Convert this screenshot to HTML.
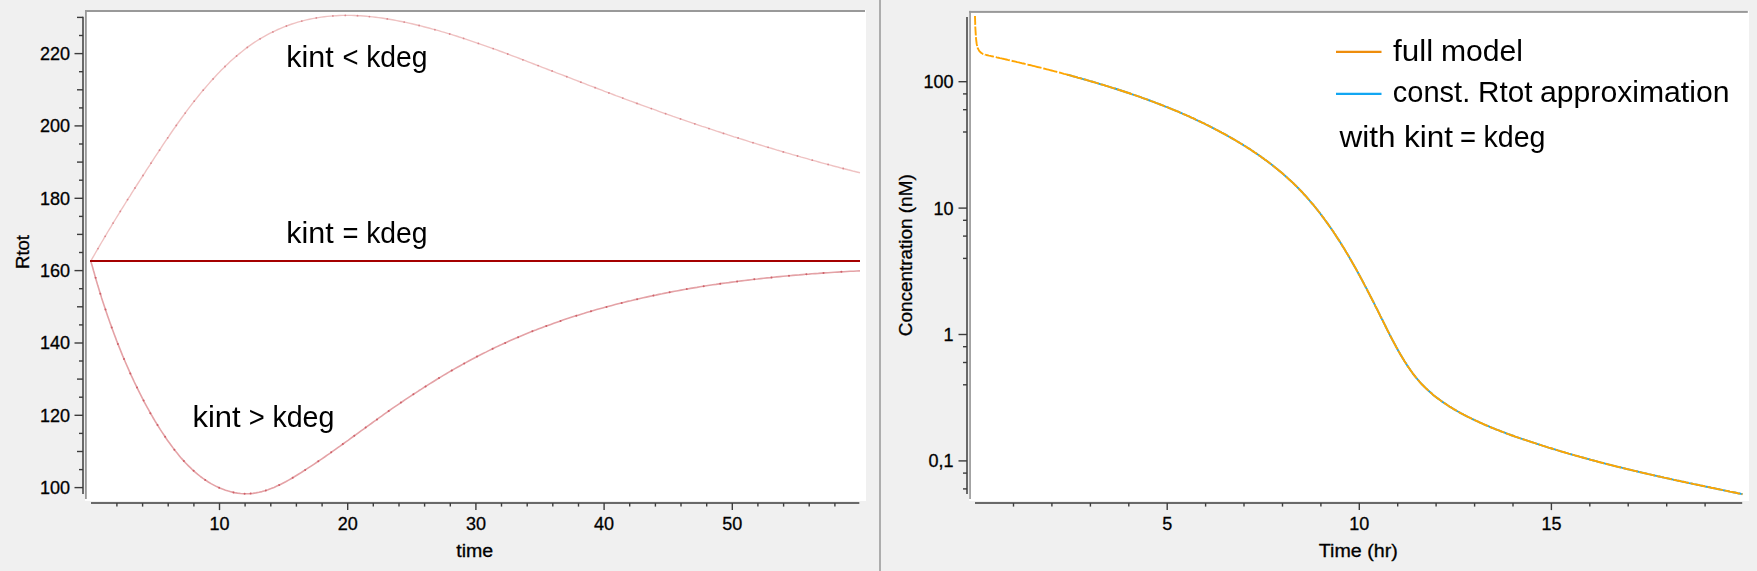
<!DOCTYPE html>
<html lang="en"><head><meta charset="utf-8"><title>Rtot and concentration plots</title>
<style>html,body{margin:0;padding:0;background:#f0f0f0;overflow:hidden}svg{display:block}text{font-family:"Liberation Sans",sans-serif;fill:#000}.ax{font-size:18px;stroke:#000;stroke-width:.3px}.an{font-size:30px}</style></head><body>
<svg width="1757" height="571" viewBox="0 0 1757 571">
<defs><filter id="gs" filterUnits="userSpaceOnUse" x="0" y="0" width="1757" height="571" color-interpolation-filters="sRGB"><feColorMatrix type="saturate" values="0"/></filter></defs>
<rect width="1757" height="571" fill="#f0f0f0"/>
<rect x="85" y="10" width="781" height="491" fill="#fff"/>
<rect x="85" y="10" width="780" height="2" fill="#999"/>
<rect x="85" y="10" width="1.8" height="489" fill="#999"/>
<line x1="83.0" y1="16.7" x2="83.0" y2="494.0" stroke="#3c3c3c" stroke-width="1.5"/>
<line x1="74.5" y1="487.6" x2="83.0" y2="487.6" stroke="#3c3c3c" stroke-width="1.4"/>
<text class="ax" x="70" y="494.0" text-anchor="end">100</text>
<line x1="79.0" y1="469.6" x2="83.0" y2="469.6" stroke="#3c3c3c" stroke-width="1.4"/>
<line x1="77.0" y1="451.5" x2="83.0" y2="451.5" stroke="#3c3c3c" stroke-width="1.4"/>
<line x1="79.0" y1="433.4" x2="83.0" y2="433.4" stroke="#3c3c3c" stroke-width="1.4"/>
<line x1="74.5" y1="415.3" x2="83.0" y2="415.3" stroke="#3c3c3c" stroke-width="1.4"/>
<text class="ax" x="70" y="421.7" text-anchor="end">120</text>
<line x1="79.0" y1="397.2" x2="83.0" y2="397.2" stroke="#3c3c3c" stroke-width="1.4"/>
<line x1="77.0" y1="379.1" x2="83.0" y2="379.1" stroke="#3c3c3c" stroke-width="1.4"/>
<line x1="79.0" y1="361.0" x2="83.0" y2="361.0" stroke="#3c3c3c" stroke-width="1.4"/>
<line x1="74.5" y1="343.0" x2="83.0" y2="343.0" stroke="#3c3c3c" stroke-width="1.4"/>
<text class="ax" x="70" y="349.4" text-anchor="end">140</text>
<line x1="79.0" y1="324.9" x2="83.0" y2="324.9" stroke="#3c3c3c" stroke-width="1.4"/>
<line x1="77.0" y1="306.8" x2="83.0" y2="306.8" stroke="#3c3c3c" stroke-width="1.4"/>
<line x1="79.0" y1="288.7" x2="83.0" y2="288.7" stroke="#3c3c3c" stroke-width="1.4"/>
<line x1="74.5" y1="270.6" x2="83.0" y2="270.6" stroke="#3c3c3c" stroke-width="1.4"/>
<text class="ax" x="70" y="277.0" text-anchor="end">160</text>
<line x1="79.0" y1="252.5" x2="83.0" y2="252.5" stroke="#3c3c3c" stroke-width="1.4"/>
<line x1="77.0" y1="234.4" x2="83.0" y2="234.4" stroke="#3c3c3c" stroke-width="1.4"/>
<line x1="79.0" y1="216.4" x2="83.0" y2="216.4" stroke="#3c3c3c" stroke-width="1.4"/>
<line x1="74.5" y1="198.3" x2="83.0" y2="198.3" stroke="#3c3c3c" stroke-width="1.4"/>
<text class="ax" x="70" y="204.7" text-anchor="end">180</text>
<line x1="79.0" y1="180.2" x2="83.0" y2="180.2" stroke="#3c3c3c" stroke-width="1.4"/>
<line x1="77.0" y1="162.1" x2="83.0" y2="162.1" stroke="#3c3c3c" stroke-width="1.4"/>
<line x1="79.0" y1="144.0" x2="83.0" y2="144.0" stroke="#3c3c3c" stroke-width="1.4"/>
<line x1="74.5" y1="125.9" x2="83.0" y2="125.9" stroke="#3c3c3c" stroke-width="1.4"/>
<text class="ax" x="70" y="132.3" text-anchor="end">200</text>
<line x1="79.0" y1="107.9" x2="83.0" y2="107.9" stroke="#3c3c3c" stroke-width="1.4"/>
<line x1="77.0" y1="89.8" x2="83.0" y2="89.8" stroke="#3c3c3c" stroke-width="1.4"/>
<line x1="79.0" y1="71.7" x2="83.0" y2="71.7" stroke="#3c3c3c" stroke-width="1.4"/>
<line x1="74.5" y1="53.6" x2="83.0" y2="53.6" stroke="#3c3c3c" stroke-width="1.4"/>
<text class="ax" x="70" y="60.0" text-anchor="end">220</text>
<line x1="79.0" y1="35.5" x2="83.0" y2="35.5" stroke="#3c3c3c" stroke-width="1.4"/>
<line x1="77.0" y1="17.4" x2="83.0" y2="17.4" stroke="#3c3c3c" stroke-width="1.4"/>
<text class="ax" transform="translate(29.3,252) rotate(-90)" text-anchor="middle" textLength="34" lengthAdjust="spacingAndGlyphs">Rtot</text>
<line x1="91" y1="503.1" x2="859.3" y2="503.1" stroke="#3c3c3c" stroke-width="1.5"/>
<line x1="116.9" y1="503.1" x2="116.9" y2="506.6" stroke="#3c3c3c" stroke-width="1.4"/>
<line x1="142.6" y1="503.1" x2="142.6" y2="506.6" stroke="#3c3c3c" stroke-width="1.4"/>
<line x1="168.2" y1="503.1" x2="168.2" y2="506.6" stroke="#3c3c3c" stroke-width="1.4"/>
<line x1="193.9" y1="503.1" x2="193.9" y2="506.6" stroke="#3c3c3c" stroke-width="1.4"/>
<line x1="219.5" y1="503.1" x2="219.5" y2="510.1" stroke="#3c3c3c" stroke-width="1.4"/>
<text class="ax" x="219.5" y="530" text-anchor="middle">10</text>
<line x1="245.1" y1="503.1" x2="245.1" y2="506.6" stroke="#3c3c3c" stroke-width="1.4"/>
<line x1="270.8" y1="503.1" x2="270.8" y2="506.6" stroke="#3c3c3c" stroke-width="1.4"/>
<line x1="296.4" y1="503.1" x2="296.4" y2="506.6" stroke="#3c3c3c" stroke-width="1.4"/>
<line x1="322.1" y1="503.1" x2="322.1" y2="506.6" stroke="#3c3c3c" stroke-width="1.4"/>
<line x1="347.7" y1="503.1" x2="347.7" y2="510.1" stroke="#3c3c3c" stroke-width="1.4"/>
<text class="ax" x="347.7" y="530" text-anchor="middle">20</text>
<line x1="373.3" y1="503.1" x2="373.3" y2="506.6" stroke="#3c3c3c" stroke-width="1.4"/>
<line x1="399.0" y1="503.1" x2="399.0" y2="506.6" stroke="#3c3c3c" stroke-width="1.4"/>
<line x1="424.6" y1="503.1" x2="424.6" y2="506.6" stroke="#3c3c3c" stroke-width="1.4"/>
<line x1="450.3" y1="503.1" x2="450.3" y2="506.6" stroke="#3c3c3c" stroke-width="1.4"/>
<line x1="475.9" y1="503.1" x2="475.9" y2="510.1" stroke="#3c3c3c" stroke-width="1.4"/>
<text class="ax" x="475.9" y="530" text-anchor="middle">30</text>
<line x1="501.5" y1="503.1" x2="501.5" y2="506.6" stroke="#3c3c3c" stroke-width="1.4"/>
<line x1="527.2" y1="503.1" x2="527.2" y2="506.6" stroke="#3c3c3c" stroke-width="1.4"/>
<line x1="552.8" y1="503.1" x2="552.8" y2="506.6" stroke="#3c3c3c" stroke-width="1.4"/>
<line x1="578.5" y1="503.1" x2="578.5" y2="506.6" stroke="#3c3c3c" stroke-width="1.4"/>
<line x1="604.1" y1="503.1" x2="604.1" y2="510.1" stroke="#3c3c3c" stroke-width="1.4"/>
<text class="ax" x="604.1" y="530" text-anchor="middle">40</text>
<line x1="629.7" y1="503.1" x2="629.7" y2="506.6" stroke="#3c3c3c" stroke-width="1.4"/>
<line x1="655.4" y1="503.1" x2="655.4" y2="506.6" stroke="#3c3c3c" stroke-width="1.4"/>
<line x1="681.0" y1="503.1" x2="681.0" y2="506.6" stroke="#3c3c3c" stroke-width="1.4"/>
<line x1="706.7" y1="503.1" x2="706.7" y2="506.6" stroke="#3c3c3c" stroke-width="1.4"/>
<line x1="732.3" y1="503.1" x2="732.3" y2="510.1" stroke="#3c3c3c" stroke-width="1.4"/>
<text class="ax" x="732.3" y="530" text-anchor="middle">50</text>
<line x1="757.9" y1="503.1" x2="757.9" y2="506.6" stroke="#3c3c3c" stroke-width="1.4"/>
<line x1="783.6" y1="503.1" x2="783.6" y2="506.6" stroke="#3c3c3c" stroke-width="1.4"/>
<line x1="809.2" y1="503.1" x2="809.2" y2="506.6" stroke="#3c3c3c" stroke-width="1.4"/>
<line x1="834.9" y1="503.1" x2="834.9" y2="506.6" stroke="#3c3c3c" stroke-width="1.4"/>
<text class="ax" x="474.7" y="556.5" text-anchor="middle" textLength="37" lengthAdjust="spacingAndGlyphs">time</text>
<path d="M90.8,261.0 L92.3,258.4 L93.9,255.7 L95.4,253.0 L96.9,250.4 L98.4,247.8 L100.0,245.1 L101.5,242.5 L103.1,239.9 L104.6,237.2 L106.2,234.6 L107.7,232.0 L109.3,229.4 L110.9,226.8 L112.4,224.2 L114.0,221.6 L115.6,219.0 L117.2,216.4 L118.8,213.8 L120.4,211.2 L122.0,208.7 L123.6,206.1 L125.2,203.5 L126.8,200.9 L128.4,198.4 L130.1,195.8 L131.7,193.2 L133.3,190.7 L134.9,188.1 L136.6,185.5 L138.2,183.0 L139.9,180.4 L141.5,177.9 L143.1,175.3 L144.8,172.8 L146.4,170.2 L148.1,167.6 L149.8,165.1 L151.4,162.5 L153.1,160.0 L154.7,157.4 L156.4,154.9 L158.1,152.3 L159.8,149.8 L161.5,147.2 L163.1,144.7 L164.8,142.1 L166.5,139.6 L168.3,137.1 L170.0,134.5 L171.7,132.0 L173.4,129.5 L175.2,127.0 L176.9,124.5 L178.7,122.0 L180.5,119.5 L182.3,117.0 L184.1,114.6 L185.9,112.1 L187.7,109.7 L189.6,107.2 L191.4,104.8 L193.3,102.4 L195.2,100.0 L197.1,97.6 L199.0,95.2 L200.9,92.9 L202.9,90.5 L204.9,88.2 L206.9,85.9 L208.9,83.6 L210.9,81.3 L213.0,79.0 L215.1,76.7 L217.1,74.5 L219.3,72.3 L221.4,70.1 L223.6,67.9 L225.8,65.8 L228.0,63.7 L230.2,61.6 L232.5,59.5 L234.8,57.5 L237.1,55.5 L239.4,53.6 L241.8,51.7 L244.2,49.8 L246.6,47.9 L249.0,46.1 L251.5,44.4 L254.0,42.7 L256.6,41.0 L259.1,39.4 L261.7,37.8 L264.4,36.3 L267.0,34.9 L269.7,33.4 L272.4,32.1 L275.1,30.8 L277.9,29.5 L280.7,28.3 L283.5,27.2 L286.3,26.1 L289.1,25.0 L292.0,24.0 L294.9,23.1 L297.8,22.2 L300.7,21.4 L303.6,20.6 L306.5,19.9 L309.4,19.2 L312.4,18.6 L315.4,18.1 L318.3,17.6 L321.3,17.1 L324.3,16.7 L327.3,16.4 L330.3,16.1 L333.3,15.9 L336.3,15.7 L339.3,15.5 L342.3,15.4 L345.3,15.4 L348.3,15.4 L351.4,15.4 L354.4,15.5 L357.4,15.7 L360.4,15.8 L363.5,16.0 L366.5,16.3 L369.5,16.6 L372.6,16.9 L375.6,17.2 L378.6,17.6 L381.7,18.0 L384.7,18.5 L387.7,19.0 L390.8,19.5 L393.8,20.0 L396.8,20.6 L399.8,21.2 L402.8,21.8 L405.9,22.4 L408.9,23.1 L411.9,23.8 L414.9,24.5 L417.9,25.2 L420.8,25.9 L423.8,26.7 L426.8,27.5 L429.8,28.3 L432.7,29.1 L435.7,29.9 L438.6,30.7 L441.6,31.6 L444.5,32.4 L447.5,33.3 L450.4,34.2 L453.3,35.1 L456.3,36.0 L459.2,37.0 L462.1,37.9 L465.0,38.8 L467.9,39.8 L470.8,40.8 L473.7,41.8 L476.6,42.8 L479.5,43.8 L482.4,44.8 L485.3,45.8 L488.1,46.8 L491.0,47.8 L493.9,48.9 L496.8,49.9 L499.6,51.0 L502.5,52.0 L505.4,53.1 L508.2,54.2 L511.1,55.3 L513.9,56.3 L516.8,57.4 L519.6,58.5 L522.5,59.6 L525.3,60.7 L528.2,61.8 L531.0,62.9 L533.8,64.0 L536.7,65.1 L539.5,66.2 L542.3,67.3 L545.2,68.4 L548.0,69.5 L550.8,70.6 L553.7,71.7 L556.5,72.8 L559.3,73.8 L562.2,74.9 L565.0,76.0 L567.8,77.1 L570.6,78.2 L573.5,79.3 L576.3,80.4 L579.1,81.5 L581.9,82.6 L584.8,83.7 L587.6,84.8 L590.4,85.9 L593.3,86.9 L596.1,88.0 L598.9,89.1 L601.8,90.2 L604.6,91.3 L607.4,92.3 L610.3,93.4 L613.1,94.5 L615.9,95.6 L618.8,96.6 L621.6,97.7 L624.5,98.8 L627.3,99.8 L630.1,100.9 L633.0,101.9 L635.9,103.0 L638.7,104.0 L641.6,105.1 L644.4,106.1 L647.3,107.1 L650.1,108.2 L653.0,109.2 L655.9,110.2 L658.8,111.3 L661.6,112.3 L664.5,113.3 L667.4,114.3 L670.3,115.3 L673.1,116.4 L676.0,117.4 L678.9,118.4 L681.8,119.4 L684.7,120.4 L687.6,121.4 L690.5,122.3 L693.4,123.3 L696.3,124.3 L699.2,125.3 L702.1,126.3 L705.0,127.2 L707.9,128.2 L710.8,129.2 L713.7,130.1 L716.6,131.1 L719.5,132.0 L722.4,133.0 L725.3,133.9 L728.2,134.9 L731.1,135.8 L734.0,136.8 L737.0,137.7 L739.9,138.6 L742.8,139.5 L745.7,140.4 L748.6,141.4 L751.5,142.3 L754.5,143.2 L757.4,144.1 L760.3,145.0 L763.2,145.9 L766.1,146.8 L769.1,147.6 L772.0,148.5 L774.9,149.4 L777.8,150.3 L780.8,151.1 L783.7,152.0 L786.6,152.9 L789.5,153.7 L792.5,154.6 L795.4,155.4 L798.3,156.2 L801.3,157.1 L804.2,157.9 L807.1,158.7 L810.0,159.6 L813.0,160.4 L815.9,161.2 L818.8,162.0 L821.7,162.8 L824.7,163.6 L827.6,164.4 L830.5,165.2 L833.5,166.0 L836.4,166.7 L839.3,167.5 L842.2,168.3 L845.1,169.0 L848.1,169.8 L851.0,170.5 L853.9,171.3 L856.8,172.0 L860.0,172.7" fill="none" stroke="#efc2c2" stroke-width="1.4" stroke-linejoin="round"/>
<path d="M90.8,261.0 L91.7,264.2 L92.6,267.2 L93.4,270.3 L94.3,273.3 L95.1,276.4 L96.0,279.5 L96.9,282.5 L97.8,285.6 L98.8,288.7 L99.7,291.7 L100.7,294.8 L101.6,297.9 L102.6,300.9 L103.6,304.0 L104.6,307.1 L105.6,310.1 L106.7,313.2 L107.7,316.2 L108.8,319.3 L109.9,322.4 L111.0,325.4 L112.1,328.5 L113.2,331.5 L114.3,334.5 L115.5,337.6 L116.6,340.6 L117.8,343.6 L119.0,346.6 L120.2,349.6 L121.4,352.6 L122.6,355.6 L123.9,358.6 L125.1,361.5 L126.4,364.5 L127.7,367.4 L129.0,370.4 L130.3,373.3 L131.6,376.2 L133.0,379.1 L134.3,382.0 L135.7,384.9 L137.1,387.7 L138.5,390.6 L139.9,393.4 L141.3,396.2 L142.8,399.1 L144.2,401.9 L145.7,404.7 L147.2,407.4 L148.8,410.2 L150.3,413.0 L151.9,415.7 L153.5,418.5 L155.1,421.2 L156.8,423.9 L158.5,426.6 L160.2,429.4 L162.0,432.1 L163.8,434.8 L165.6,437.5 L167.4,440.2 L169.3,442.8 L171.3,445.5 L173.2,448.1 L175.2,450.8 L177.3,453.3 L179.4,455.9 L181.5,458.4 L183.7,460.9 L185.9,463.3 L188.2,465.6 L190.6,467.9 L192.9,470.2 L195.4,472.3 L197.8,474.4 L200.4,476.5 L203.0,478.4 L205.6,480.2 L208.3,482.0 L211.0,483.6 L213.8,485.1 L216.7,486.6 L219.6,487.9 L222.5,489.1 L225.5,490.2 L228.4,491.1 L231.5,491.9 L234.5,492.6 L237.5,493.1 L240.6,493.5 L243.7,493.7 L246.8,493.8 L249.8,493.7 L252.9,493.4 L255.9,492.9 L259.0,492.3 L262.0,491.6 L265.0,490.7 L268.0,489.7 L271.0,488.6 L274.0,487.4 L276.9,486.1 L279.9,484.7 L282.8,483.2 L285.7,481.7 L288.6,480.1 L291.5,478.5 L294.3,476.8 L297.2,475.0 L300.0,473.3 L302.8,471.5 L305.6,469.7 L308.3,467.9 L311.1,466.1 L313.8,464.3 L316.5,462.5 L319.2,460.6 L321.9,458.8 L324.6,457.0 L327.2,455.1 L329.9,453.3 L332.5,451.4 L335.1,449.6 L337.8,447.7 L340.4,445.9 L343.0,444.0 L345.5,442.1 L348.1,440.3 L350.7,438.4 L353.3,436.5 L355.9,434.7 L358.4,432.8 L361.0,430.9 L363.6,429.1 L366.1,427.2 L368.7,425.3 L371.3,423.5 L373.8,421.6 L376.4,419.8 L379.0,417.9 L381.6,416.1 L384.2,414.2 L386.8,412.4 L389.4,410.5 L392.0,408.7 L394.6,406.9 L397.3,405.1 L399.9,403.3 L402.6,401.5 L405.2,399.7 L407.9,397.9 L410.6,396.1 L413.3,394.3 L416.0,392.6 L418.7,390.8 L421.4,389.1 L424.1,387.3 L426.8,385.6 L429.6,383.9 L432.3,382.2 L435.1,380.5 L437.8,378.8 L440.6,377.1 L443.4,375.4 L446.2,373.8 L448.9,372.1 L451.7,370.5 L454.5,368.9 L457.4,367.3 L460.2,365.7 L463.0,364.1 L465.8,362.6 L468.7,361.0 L471.5,359.5 L474.4,358.0 L477.2,356.5 L480.1,355.0 L483.0,353.5 L485.9,352.1 L488.8,350.6 L491.7,349.2 L494.6,347.8 L497.5,346.4 L500.4,345.1 L503.3,343.7 L506.2,342.4 L509.2,341.1 L512.1,339.8 L515.0,338.5 L518.0,337.2 L521.0,336.0 L523.9,334.8 L526.9,333.5 L529.9,332.3 L532.8,331.1 L535.8,330.0 L538.8,328.8 L541.8,327.7 L544.8,326.6 L547.8,325.5 L550.8,324.4 L553.8,323.3 L556.9,322.2 L559.9,321.2 L562.9,320.1 L565.9,319.1 L569.0,318.1 L572.0,317.1 L575.1,316.1 L578.1,315.2 L581.2,314.2 L584.3,313.3 L587.3,312.3 L590.4,311.4 L593.5,310.5 L596.6,309.6 L599.6,308.8 L602.7,307.9 L605.8,307.1 L608.9,306.2 L612.0,305.4 L615.1,304.6 L618.2,303.8 L621.3,303.0 L624.4,302.2 L627.6,301.4 L630.7,300.7 L633.8,299.9 L636.9,299.2 L640.1,298.5 L643.2,297.8 L646.3,297.1 L649.5,296.4 L652.6,295.7 L655.8,295.1 L658.9,294.4 L662.1,293.8 L665.2,293.1 L668.4,292.5 L671.5,291.9 L674.7,291.3 L677.9,290.7 L681.0,290.1 L684.2,289.5 L687.4,289.0 L690.5,288.4 L693.7,287.9 L696.9,287.4 L700.1,286.8 L703.2,286.3 L706.4,285.8 L709.6,285.3 L712.8,284.8 L716.0,284.4 L719.2,283.9 L722.4,283.4 L725.5,283.0 L728.7,282.6 L731.9,282.1 L735.1,281.7 L738.3,281.3 L741.5,280.9 L744.7,280.5 L747.9,280.1 L751.1,279.7 L754.3,279.3 L757.5,279.0 L760.7,278.6 L763.9,278.2 L767.1,277.9 L770.3,277.6 L773.5,277.2 L776.7,276.9 L779.9,276.6 L783.1,276.3 L786.3,276.0 L789.5,275.7 L792.7,275.4 L795.9,275.1 L799.2,274.9 L802.4,274.6 L805.6,274.3 L808.8,274.1 L812.0,273.8 L815.2,273.6 L818.4,273.4 L821.6,273.1 L824.8,272.9 L828.0,272.7 L831.2,272.5 L834.4,272.3 L837.5,272.1 L840.7,271.9 L843.9,271.7 L847.1,271.5 L850.3,271.3 L853.5,271.2 L856.7,271.0 L860.0,270.9" fill="none" stroke="#e4a2a6" stroke-width="1.6" stroke-linejoin="round"/>
<circle cx="98.0" cy="248.6" r="0.9" fill="#dc8a90"/><circle cx="105.2" cy="236.3" r="0.9" fill="#dc8a90"/><circle cx="113.1" cy="223.1" r="0.9" fill="#dc8a90"/><circle cx="120.3" cy="211.4" r="0.9" fill="#dc8a90"/><circle cx="127.6" cy="199.6" r="0.9" fill="#dc8a90"/><circle cx="135.0" cy="188.0" r="0.9" fill="#dc8a90"/><circle cx="143.0" cy="175.5" r="0.9" fill="#dc8a90"/><circle cx="151.0" cy="163.2" r="0.9" fill="#dc8a90"/><circle cx="159.5" cy="150.2" r="0.9" fill="#dc8a90"/><circle cx="167.7" cy="137.8" r="0.9" fill="#dc8a90"/><circle cx="176.3" cy="125.4" r="0.9" fill="#dc8a90"/><circle cx="185.2" cy="113.1" r="0.9" fill="#dc8a90"/><circle cx="194.2" cy="101.2" r="0.9" fill="#dc8a90"/><circle cx="203.2" cy="90.2" r="0.9" fill="#dc8a90"/><circle cx="213.1" cy="78.9" r="0.9" fill="#dc8a90"/><circle cx="225.0" cy="66.5" r="0.9" fill="#dc8a90"/><circle cx="236.6" cy="56.0" r="0.9" fill="#dc8a90"/><circle cx="247.3" cy="47.4" r="0.9" fill="#dc8a90"/><circle cx="260.1" cy="38.8" r="0.9" fill="#dc8a90"/><circle cx="272.9" cy="31.9" r="0.9" fill="#dc8a90"/><circle cx="286.4" cy="26.0" r="0.9" fill="#dc8a90"/><circle cx="301.8" cy="21.1" r="0.9" fill="#dc8a90"/><circle cx="316.3" cy="17.9" r="0.9" fill="#dc8a90"/><circle cx="332.9" cy="15.9" r="0.9" fill="#dc8a90"/><circle cx="345.3" cy="15.4" r="0.9" fill="#dc8a90"/><circle cx="357.5" cy="15.7" r="0.9" fill="#dc8a90"/><circle cx="369.4" cy="16.6" r="0.9" fill="#dc8a90"/><circle cx="387.3" cy="18.9" r="0.9" fill="#dc8a90"/><circle cx="404.2" cy="22.1" r="0.9" fill="#dc8a90"/><circle cx="419.1" cy="25.5" r="0.9" fill="#dc8a90"/><circle cx="434.9" cy="29.7" r="0.9" fill="#dc8a90"/><circle cx="449.7" cy="34.0" r="0.9" fill="#dc8a90"/><circle cx="463.6" cy="38.4" r="0.9" fill="#dc8a90"/><circle cx="478.4" cy="43.4" r="0.9" fill="#dc8a90"/><circle cx="493.2" cy="48.6" r="0.9" fill="#dc8a90"/><circle cx="507.7" cy="54.0" r="0.9" fill="#dc8a90"/><circle cx="522.9" cy="59.8" r="0.9" fill="#dc8a90"/><circle cx="538.1" cy="65.6" r="0.9" fill="#dc8a90"/><circle cx="552.1" cy="71.0" r="0.9" fill="#dc8a90"/><circle cx="566.8" cy="76.7" r="0.9" fill="#dc8a90"/><circle cx="580.9" cy="82.2" r="0.9" fill="#dc8a90"/><circle cx="595.1" cy="87.7" r="0.9" fill="#dc8a90"/><circle cx="608.9" cy="92.9" r="0.9" fill="#dc8a90"/><circle cx="622.8" cy="98.1" r="0.9" fill="#dc8a90"/><circle cx="637.0" cy="103.4" r="0.9" fill="#dc8a90"/><circle cx="651.3" cy="108.6" r="0.9" fill="#dc8a90"/><circle cx="665.6" cy="113.7" r="0.9" fill="#dc8a90"/><circle cx="680.5" cy="118.9" r="0.9" fill="#dc8a90"/><circle cx="694.8" cy="123.8" r="0.9" fill="#dc8a90"/><circle cx="709.0" cy="128.6" r="0.9" fill="#dc8a90"/><circle cx="723.5" cy="133.4" r="0.9" fill="#dc8a90"/><circle cx="738.1" cy="138.0" r="0.9" fill="#dc8a90"/><circle cx="753.0" cy="142.7" r="0.9" fill="#dc8a90"/><circle cx="768.1" cy="147.3" r="0.9" fill="#dc8a90"/><circle cx="783.3" cy="151.9" r="0.9" fill="#dc8a90"/><circle cx="797.5" cy="156.0" r="0.9" fill="#dc8a90"/><circle cx="812.3" cy="160.2" r="0.9" fill="#dc8a90"/><circle cx="828.1" cy="164.5" r="0.9" fill="#dc8a90"/><circle cx="843.2" cy="168.5" r="0.9" fill="#dc8a90"/><circle cx="95.6" cy="277.8" r="1" fill="#cf6068"/><circle cx="100.3" cy="293.7" r="1" fill="#cf6068"/><circle cx="105.5" cy="309.6" r="1" fill="#cf6068"/><circle cx="111.7" cy="327.4" r="1" fill="#cf6068"/><circle cx="117.9" cy="344.0" r="1" fill="#cf6068"/><circle cx="124.0" cy="358.9" r="1" fill="#cf6068"/><circle cx="130.3" cy="373.4" r="1" fill="#cf6068"/><circle cx="137.0" cy="387.6" r="1" fill="#cf6068"/><circle cx="143.6" cy="400.6" r="1" fill="#cf6068"/><circle cx="150.4" cy="413.2" r="1" fill="#cf6068"/><circle cx="157.5" cy="425.0" r="1" fill="#cf6068"/><circle cx="165.1" cy="436.8" r="1" fill="#cf6068"/><circle cx="174.4" cy="449.7" r="1" fill="#cf6068"/><circle cx="183.9" cy="461.0" r="1" fill="#cf6068"/><circle cx="193.6" cy="470.8" r="1" fill="#cf6068"/><circle cx="205.2" cy="480.0" r="1" fill="#cf6068"/><circle cx="219.2" cy="487.7" r="1" fill="#cf6068"/><circle cx="233.5" cy="492.4" r="1" fill="#cf6068"/><circle cx="244.6" cy="493.7" r="1" fill="#cf6068"/><circle cx="250.6" cy="493.6" r="1" fill="#cf6068"/><circle cx="265.8" cy="490.5" r="1" fill="#cf6068"/><circle cx="279.2" cy="485.0" r="1" fill="#cf6068"/><circle cx="292.7" cy="477.7" r="1" fill="#cf6068"/><circle cx="305.2" cy="469.9" r="1" fill="#cf6068"/><circle cx="318.3" cy="461.3" r="1" fill="#cf6068"/><circle cx="331.2" cy="452.3" r="1" fill="#cf6068"/><circle cx="342.8" cy="444.1" r="1" fill="#cf6068"/><circle cx="354.3" cy="435.8" r="1" fill="#cf6068"/><circle cx="365.7" cy="427.5" r="1" fill="#cf6068"/><circle cx="377.0" cy="419.4" r="1" fill="#cf6068"/><circle cx="388.7" cy="411.0" r="1" fill="#cf6068"/><circle cx="400.9" cy="402.6" r="1" fill="#cf6068"/><circle cx="413.4" cy="394.2" r="1" fill="#cf6068"/><circle cx="425.6" cy="386.4" r="1" fill="#cf6068"/><circle cx="439.0" cy="378.1" r="1" fill="#cf6068"/><circle cx="451.8" cy="370.5" r="1" fill="#cf6068"/><circle cx="464.2" cy="363.5" r="1" fill="#cf6068"/><circle cx="477.0" cy="356.6" r="1" fill="#cf6068"/><circle cx="492.6" cy="348.8" r="1" fill="#cf6068"/><circle cx="505.2" cy="342.9" r="1" fill="#cf6068"/><circle cx="518.1" cy="337.2" r="1" fill="#cf6068"/><circle cx="532.4" cy="331.3" r="1" fill="#cf6068"/><circle cx="546.3" cy="326.0" r="1" fill="#cf6068"/><circle cx="560.5" cy="320.9" r="1" fill="#cf6068"/><circle cx="576.3" cy="315.7" r="1" fill="#cf6068"/><circle cx="591.0" cy="311.2" r="1" fill="#cf6068"/><circle cx="606.5" cy="306.9" r="1" fill="#cf6068"/><circle cx="621.7" cy="302.9" r="1" fill="#cf6068"/><circle cx="637.1" cy="299.2" r="1" fill="#cf6068"/><circle cx="653.4" cy="295.6" r="1" fill="#cf6068"/><circle cx="669.6" cy="292.3" r="1" fill="#cf6068"/><circle cx="686.8" cy="289.1" r="1" fill="#cf6068"/><circle cx="703.7" cy="286.3" r="1" fill="#cf6068"/><circle cx="720.2" cy="283.8" r="1" fill="#cf6068"/><circle cx="737.1" cy="281.4" r="1" fill="#cf6068"/><circle cx="754.3" cy="279.3" r="1" fill="#cf6068"/><circle cx="771.5" cy="277.5" r="1" fill="#cf6068"/><circle cx="789.0" cy="275.8" r="1" fill="#cf6068"/><circle cx="806.4" cy="274.3" r="1" fill="#cf6068"/><circle cx="823.5" cy="273.0" r="1" fill="#cf6068"/><circle cx="841.4" cy="271.8" r="1" fill="#cf6068"/>
<line x1="90" y1="261.1" x2="860" y2="261.1" stroke="#a50000" stroke-width="2"/>
<g filter="url(#gs)"><text class="an" x="286.3" y="67.0" textLength="47.4" lengthAdjust="spacingAndGlyphs">kint</text><text class="an" x="342.5" y="67.0" textLength="16.0" lengthAdjust="spacingAndGlyphs">&lt;</text><text class="an" x="366.2" y="67.0" textLength="61.4" lengthAdjust="spacingAndGlyphs">kdeg</text></g>
<g filter="url(#gs)"><text class="an" x="286.3" y="242.6" textLength="47.4" lengthAdjust="spacingAndGlyphs">kint</text><text class="an" x="342.5" y="242.6" textLength="16.0" lengthAdjust="spacingAndGlyphs">=</text><text class="an" x="366.2" y="242.6" textLength="61.4" lengthAdjust="spacingAndGlyphs">kdeg</text></g>
<g filter="url(#gs)"><text class="an" x="192.5" y="426.7" textLength="48.2" lengthAdjust="spacingAndGlyphs">kint</text><text class="an" x="248.7" y="426.7" textLength="16.0" lengthAdjust="spacingAndGlyphs">&gt;</text><text class="an" x="272.4" y="426.7" textLength="62.0" lengthAdjust="spacingAndGlyphs">kdeg</text></g>
<rect x="879" y="0" width="2" height="571" fill="#adadad"/>
<rect x="969.2" y="10.9" width="779.8" height="490.1" fill="#fff"/>
<rect x="969.2" y="10.9" width="778.5999999999999" height="2" fill="#999"/>
<rect x="969.2" y="10.9" width="1.7" height="488.1" fill="#999"/>
<line x1="967.0" y1="16.9" x2="967.0" y2="494" stroke="#3c3c3c" stroke-width="1.5"/>
<line x1="958.5" y1="81.7" x2="967.0" y2="81.7" stroke="#3c3c3c" stroke-width="1.4"/>
<text class="ax" x="953.5" y="88.1" text-anchor="end">100</text>
<line x1="963.0" y1="93.9" x2="967.0" y2="93.9" stroke="#3c3c3c" stroke-width="1.4"/>
<line x1="963.0" y1="109.7" x2="967.0" y2="109.7" stroke="#3c3c3c" stroke-width="1.4"/>
<line x1="963.0" y1="132.0" x2="967.0" y2="132.0" stroke="#3c3c3c" stroke-width="1.4"/>
<line x1="958.5" y1="208.1" x2="967.0" y2="208.1" stroke="#3c3c3c" stroke-width="1.4"/>
<text class="ax" x="953.5" y="214.5" text-anchor="end">10</text>
<line x1="963.0" y1="220.3" x2="967.0" y2="220.3" stroke="#3c3c3c" stroke-width="1.4"/>
<line x1="963.0" y1="236.1" x2="967.0" y2="236.1" stroke="#3c3c3c" stroke-width="1.4"/>
<line x1="963.0" y1="258.4" x2="967.0" y2="258.4" stroke="#3c3c3c" stroke-width="1.4"/>
<line x1="958.5" y1="334.5" x2="967.0" y2="334.5" stroke="#3c3c3c" stroke-width="1.4"/>
<text class="ax" x="953.5" y="340.9" text-anchor="end">1</text>
<line x1="963.0" y1="346.7" x2="967.0" y2="346.7" stroke="#3c3c3c" stroke-width="1.4"/>
<line x1="963.0" y1="362.5" x2="967.0" y2="362.5" stroke="#3c3c3c" stroke-width="1.4"/>
<line x1="963.0" y1="384.8" x2="967.0" y2="384.8" stroke="#3c3c3c" stroke-width="1.4"/>
<line x1="958.5" y1="460.9" x2="967.0" y2="460.9" stroke="#3c3c3c" stroke-width="1.4"/>
<text class="ax" x="953.5" y="467.3" text-anchor="end">0,1</text>
<line x1="963.0" y1="473.1" x2="967.0" y2="473.1" stroke="#3c3c3c" stroke-width="1.4"/>
<line x1="963.0" y1="488.9" x2="967.0" y2="488.9" stroke="#3c3c3c" stroke-width="1.4"/>
<text class="ax" transform="translate(912.2,255.3) rotate(-90)" text-anchor="middle" textLength="162" lengthAdjust="spacingAndGlyphs">Concentration (nM)</text>
<line x1="975" y1="503.1" x2="1742.2" y2="503.1" stroke="#3c3c3c" stroke-width="1.5"/>
<line x1="1013.5" y1="503.1" x2="1013.5" y2="506.6" stroke="#3c3c3c" stroke-width="1.4"/>
<line x1="1051.9" y1="503.1" x2="1051.9" y2="506.6" stroke="#3c3c3c" stroke-width="1.4"/>
<line x1="1090.4" y1="503.1" x2="1090.4" y2="506.6" stroke="#3c3c3c" stroke-width="1.4"/>
<line x1="1128.8" y1="503.1" x2="1128.8" y2="506.6" stroke="#3c3c3c" stroke-width="1.4"/>
<line x1="1167.2" y1="503.1" x2="1167.2" y2="510.1" stroke="#3c3c3c" stroke-width="1.4"/>
<text class="ax" x="1167.2" y="530" text-anchor="middle">5</text>
<line x1="1205.6" y1="503.1" x2="1205.6" y2="506.6" stroke="#3c3c3c" stroke-width="1.4"/>
<line x1="1244.0" y1="503.1" x2="1244.0" y2="506.6" stroke="#3c3c3c" stroke-width="1.4"/>
<line x1="1282.5" y1="503.1" x2="1282.5" y2="506.6" stroke="#3c3c3c" stroke-width="1.4"/>
<line x1="1320.9" y1="503.1" x2="1320.9" y2="506.6" stroke="#3c3c3c" stroke-width="1.4"/>
<line x1="1359.3" y1="503.1" x2="1359.3" y2="510.1" stroke="#3c3c3c" stroke-width="1.4"/>
<text class="ax" x="1359.3" y="530" text-anchor="middle">10</text>
<line x1="1397.7" y1="503.1" x2="1397.7" y2="506.6" stroke="#3c3c3c" stroke-width="1.4"/>
<line x1="1436.1" y1="503.1" x2="1436.1" y2="506.6" stroke="#3c3c3c" stroke-width="1.4"/>
<line x1="1474.6" y1="503.1" x2="1474.6" y2="506.6" stroke="#3c3c3c" stroke-width="1.4"/>
<line x1="1513.0" y1="503.1" x2="1513.0" y2="506.6" stroke="#3c3c3c" stroke-width="1.4"/>
<line x1="1551.4" y1="503.1" x2="1551.4" y2="510.1" stroke="#3c3c3c" stroke-width="1.4"/>
<text class="ax" x="1551.4" y="530" text-anchor="middle">15</text>
<line x1="1589.8" y1="503.1" x2="1589.8" y2="506.6" stroke="#3c3c3c" stroke-width="1.4"/>
<line x1="1628.2" y1="503.1" x2="1628.2" y2="506.6" stroke="#3c3c3c" stroke-width="1.4"/>
<line x1="1666.7" y1="503.1" x2="1666.7" y2="506.6" stroke="#3c3c3c" stroke-width="1.4"/>
<line x1="1705.1" y1="503.1" x2="1705.1" y2="506.6" stroke="#3c3c3c" stroke-width="1.4"/>
<text class="ax" x="1358.3" y="556.5" text-anchor="middle" textLength="79" lengthAdjust="spacingAndGlyphs">Time (hr)</text>
<path d="M1067.0,74.6 L1068.6,75.0 L1070.1,75.4 L1071.7,75.8 L1073.2,76.3 L1074.7,76.7 L1076.3,77.1 L1077.8,77.6 L1079.4,78.0 L1080.9,78.4 L1082.5,78.9 L1084.0,79.3 L1085.6,79.7 L1087.1,80.2 L1088.6,80.6 L1090.2,81.1 L1091.7,81.5 L1093.3,82.0 L1094.8,82.4 L1096.3,82.9 L1097.9,83.3 L1099.4,83.8 L1101.0,84.3 L1102.5,84.7 L1104.0,85.2 L1105.6,85.7 L1107.1,86.1 L1108.7,86.6 L1110.2,87.1 L1111.7,87.6 L1113.3,88.1 L1114.8,88.5 L1116.3,89.0 L1117.9,89.5 L1119.4,90.0 L1120.9,90.5 L1122.4,91.0 L1124.0,91.5 L1125.5,92.0 L1127.0,92.5 L1128.6,93.0 L1130.1,93.5 L1131.6,94.1 L1133.1,94.6 L1134.6,95.1 L1136.2,95.6 L1137.7,96.2 L1139.2,96.7 L1140.7,97.2 L1142.2,97.8 L1143.7,98.3 L1145.3,98.9 L1146.8,99.4 L1148.3,100.0 L1149.8,100.5 L1151.3,101.1 L1152.8,101.6 L1154.3,102.2 L1155.8,102.8 L1157.3,103.3 L1158.8,103.9 L1160.3,104.5 L1161.8,105.1 L1163.3,105.7 L1164.8,106.3 L1166.3,106.9 L1167.8,107.4 L1169.3,108.1 L1170.8,108.7 L1172.3,109.3 L1173.8,109.9 L1175.2,110.5 L1176.7,111.1 L1178.2,111.7 L1179.7,112.4 L1181.2,113.0 L1182.6,113.7 L1184.1,114.3 L1185.6,114.9 L1187.1,115.6 L1188.5,116.2 L1190.0,116.9 L1191.4,117.6 L1192.9,118.2 L1194.4,118.9 L1195.8,119.6 L1197.3,120.3 L1198.7,121.0 L1200.2,121.6 L1201.6,122.3 L1203.1,123.0 L1204.5,123.7 L1206.0,124.5 L1207.4,125.2 L1208.9,125.9 L1210.3,126.6 L1211.7,127.3 L1213.2,128.1 L1214.6,128.8 L1216.0,129.6 L1217.5,130.3 L1218.9,131.1 L1220.3,131.8 L1221.7,132.6 L1223.1,133.3 L1224.6,134.1 L1226.0,134.9 L1227.4,135.7 L1228.8,136.5 L1230.2,137.3 L1231.6,138.1 L1233.0,138.9 L1234.4,139.7 L1235.8,140.5 L1237.1,141.3 L1238.5,142.1 L1239.9,143.0 L1241.3,143.8 L1242.7,144.6 L1244.0,145.5 L1245.4,146.3 L1246.8,147.2 L1248.1,148.1 L1249.5,148.9 L1250.8,149.8 L1252.2,150.7 L1253.5,151.6 L1254.8,152.5 L1256.2,153.4 L1257.5,154.3 L1258.8,155.2 L1260.1,156.1 L1261.4,157.1 L1262.7,158.0 L1264.0,158.9 L1265.3,159.9 L1266.6,160.8 L1267.9,161.8 L1269.2,162.8 L1270.5,163.7 L1271.8,164.7 L1273.0,165.7 L1274.3,166.7 L1275.5,167.7 L1276.8,168.7 L1278.0,169.7 L1279.2,170.7 L1280.5,171.8 L1281.7,172.8 L1282.9,173.8 L1284.1,174.9 L1285.3,175.9 L1286.5,177.0 L1287.7,178.1 L1288.9,179.2 L1290.1,180.2 L1291.2,181.3 L1292.4,182.4 L1293.6,183.5 L1294.7,184.7 L1295.9,185.8 L1297.0,186.9 L1298.1,188.0 L1299.2,189.2 L1300.4,190.3 L1301.5,191.5 L1302.6,192.7 L1303.6,193.8 L1304.7,195.0 L1305.8,196.2 L1306.9,197.4 L1307.9,198.6 L1309.0,199.8 L1310.0,201.0 L1311.1,202.3 L1312.1,203.5 L1313.2,204.7 L1314.2,206.0 L1315.2,207.2 L1316.2,208.5 L1317.2,209.7 L1318.2,211.0 L1319.2,212.2 L1320.2,213.5 L1321.2,214.8 L1322.1,216.1 L1323.1,217.4 L1324.1,218.7 L1325.0,220.0 L1326.0,221.3 L1326.9,222.6 L1327.9,223.9 L1328.8,225.2 L1329.7,226.5 L1330.6,227.8 L1331.6,229.2 L1332.5,230.5 L1333.4,231.8 L1334.3,233.2 L1335.2,234.5 L1336.1,235.9 L1336.9,237.2 L1337.8,238.6 L1338.7,239.9 L1339.6,241.3 L1340.4,242.6 L1341.3,244.0 L1342.1,245.4 L1343.0,246.8 L1343.8,248.1 L1344.7,249.5 L1345.5,250.9 L1346.3,252.3 L1347.2,253.7 L1348.0,255.0 L1348.8,256.4 L1349.6,257.8 L1350.4,259.2 L1351.2,260.6 L1352.0,262.0 L1352.8,263.4 L1353.6,264.8 L1354.4,266.2 L1355.2,267.6 L1356.0,269.0 L1356.8,270.4 L1357.6,271.9 L1358.3,273.3 L1359.1,274.7 L1359.9,276.1 L1360.6,277.5 L1361.4,278.9 L1362.2,280.4 L1362.9,281.8 L1363.7,283.2 L1364.4,284.6 L1365.2,286.1 L1365.9,287.5 L1366.7,288.9 L1367.4,290.3 L1368.1,291.8 L1368.9,293.2 L1369.6,294.6 L1370.3,296.0 L1371.1,297.5 L1371.8,298.9 L1372.5,300.3 L1373.3,301.8 L1374.0,303.2 L1374.7,304.6 L1375.4,306.1 L1376.1,307.5 L1376.9,308.9 L1377.6,310.3 L1378.3,311.8 L1379.0,313.2 L1379.7,314.6 L1380.4,316.1 L1381.1,317.5 L1381.8,318.9 L1382.6,320.3 L1383.3,321.8 L1384.0,323.2 L1384.7,324.6 L1385.4,326.0 L1386.1,327.5 L1386.8,328.9 L1387.5,330.3 L1388.2,331.7 L1389.0,333.1 L1389.7,334.6 L1390.4,336.0 L1391.1,337.4 L1391.9,338.8 L1392.6,340.2 L1393.4,341.6 L1394.1,343.0 L1394.9,344.4 L1395.6,345.8 L1396.4,347.3 L1397.2,348.7 L1397.9,350.1 L1398.7,351.4 L1399.5,352.8 L1400.3,354.2 L1401.1,355.6 L1402.0,357.0 L1402.8,358.4 L1403.7,359.8 L1404.5,361.2 L1405.4,362.5 L1406.3,363.9 L1407.1,365.3 L1408.0,366.6 L1409.0,368.0 L1409.9,369.3 L1410.8,370.7 L1411.8,372.0 L1412.7,373.3 L1413.7,374.6 L1414.7,375.9 L1415.7,377.2 L1416.8,378.5 L1417.8,379.7 L1418.9,380.9 L1419.9,382.1 L1421.0,383.3 L1422.1,384.5 L1423.3,385.7 L1424.4,386.8 L1425.5,387.9 L1426.7,389.0 L1427.9,390.1 L1429.1,391.2 L1430.3,392.3 L1431.5,393.3 L1432.7,394.4 L1433.9,395.4 L1435.2,396.4 L1436.5,397.4 L1437.7,398.4 L1439.0,399.3 L1440.3,400.3 L1441.6,401.2 L1442.9,402.1 L1444.2,403.0 L1445.6,403.9 L1446.9,404.8 L1448.3,405.7 L1449.6,406.6 L1451.0,407.4 L1452.4,408.3 L1453.7,409.1 L1455.1,409.9 L1456.5,410.7 L1457.9,411.5 L1459.3,412.3 L1460.7,413.1 L1462.2,413.8 L1463.6,414.6 L1465.0,415.3 L1466.5,416.1 L1467.9,416.8 L1469.3,417.5 L1470.8,418.2 L1472.2,419.0 L1473.7,419.6 L1475.2,420.3 L1476.6,421.0 L1478.1,421.7 L1479.5,422.4 L1481.0,423.0 L1482.5,423.7 L1483.9,424.3 L1485.4,425.0 L1486.9,425.6 L1488.4,426.2 L1489.8,426.8 L1491.3,427.5 L1492.8,428.1 L1494.3,428.7 L1495.8,429.3 L1497.3,429.9 L1498.8,430.4 L1500.2,431.0 L1501.7,431.6 L1503.2,432.2 L1504.7,432.7 L1506.2,433.3 L1507.7,433.9 L1509.2,434.4 L1510.7,435.0 L1512.2,435.5 L1513.7,436.0 L1515.2,436.6 L1516.7,437.1 L1518.2,437.6 L1519.7,438.2 L1521.2,438.7 L1522.8,439.2 L1524.3,439.7 L1525.8,440.2 L1527.3,440.7 L1528.8,441.2 L1530.3,441.7 L1531.9,442.2 L1533.4,442.7 L1534.9,443.2 L1536.4,443.7 L1537.9,444.2 L1539.5,444.7 L1541.0,445.2 L1542.5,445.7 L1544.1,446.1 L1545.6,446.6 L1547.1,447.1 L1548.6,447.6 L1550.2,448.0 L1551.7,448.5 L1553.2,449.0 L1554.8,449.4 L1556.3,449.9 L1557.9,450.4 L1559.4,450.8 L1560.9,451.3 L1562.5,451.8 L1564.0,452.2 L1565.6,452.7 L1567.1,453.1 L1568.7,453.6 L1570.2,454.0 L1571.8,454.5 L1573.3,454.9 L1574.9,455.4 L1576.4,455.8 L1578.0,456.2 L1579.5,456.7 L1581.1,457.1 L1582.6,457.5 L1584.2,458.0 L1585.7,458.4 L1587.3,458.8 L1588.8,459.2 L1590.4,459.7 L1591.9,460.1 L1593.5,460.5 L1595.1,460.9 L1596.6,461.3 L1598.2,461.8 L1599.7,462.2 L1601.3,462.6 L1602.9,463.0 L1604.4,463.4 L1606.0,463.8 L1607.5,464.2 L1609.1,464.6 L1610.7,465.0 L1612.2,465.4 L1613.8,465.8 L1615.4,466.2 L1616.9,466.6 L1618.5,467.0 L1620.1,467.3 L1621.6,467.7 L1623.2,468.1 L1624.8,468.5 L1626.3,468.9 L1627.9,469.3 L1629.5,469.6 L1631.1,470.0 L1632.6,470.4 L1634.2,470.8 L1635.8,471.1 L1637.3,471.5 L1638.9,471.9 L1640.5,472.2 L1642.0,472.6 L1643.6,473.0 L1645.2,473.3 L1646.8,473.7 L1648.3,474.1 L1649.9,474.4 L1651.5,474.8 L1653.0,475.1 L1654.6,475.5 L1656.2,475.8 L1657.8,476.2 L1659.3,476.5 L1660.9,476.9 L1662.5,477.2 L1664.1,477.6 L1665.6,477.9 L1667.2,478.3 L1668.8,478.6 L1670.3,479.0 L1671.9,479.3 L1673.5,479.7 L1675.1,480.0 L1676.6,480.4 L1678.2,480.7 L1679.8,481.0 L1681.3,481.4 L1682.9,481.7 L1684.5,482.0 L1686.1,482.4 L1687.6,482.7 L1689.2,483.1 L1690.8,483.4 L1692.3,483.7 L1693.9,484.1 L1695.5,484.4 L1697.0,484.7 L1698.6,485.0 L1700.2,485.4 L1701.8,485.7 L1703.3,486.0 L1704.9,486.4 L1706.5,486.7 L1708.0,487.0 L1709.6,487.3 L1711.2,487.7 L1712.7,488.0 L1714.3,488.3 L1715.8,488.6 L1717.4,489.0 L1719.0,489.3 L1720.5,489.6 L1722.1,489.9 L1723.7,490.3 L1725.2,490.6 L1726.8,490.9 L1728.3,491.2 L1729.9,491.6 L1731.4,491.9 L1733.0,492.2 L1734.6,492.5 L1736.1,492.8 L1737.7,493.2 L1739.2,493.5 L1740.8,493.8 L1742.5,494.2" fill="none" stroke="#18a4f0" stroke-width="1.9" stroke-linejoin="round"/>
<path d="M975.0,15.9 L975.0,17.5 L975.1,19.1 L975.1,20.7 L975.2,22.3 L975.2,24.0 L975.3,25.6 L975.3,27.2 L975.4,28.8 L975.5,30.3 L975.6,31.9 L975.7,33.5 L975.8,35.1 L975.9,36.7 L976.0,38.3 L976.2,39.9 L976.4,41.6 L976.6,43.2 L976.9,44.8 L977.3,46.4 L977.7,48.0 L978.4,49.4 L979.2,50.8 L980.2,52.0 L981.4,53.0 L982.7,53.8 L984.2,54.4 L985.7,54.9" fill="none" stroke="#ffa500" stroke-width="1.9" stroke-linejoin="round" stroke-dasharray="9 1.6"/>
<path d="M985.7,54.9 L987.3,55.2 L988.9,55.6 L990.4,55.9 L992.0,56.3 L993.6,56.6 L995.2,57.0 L996.8,57.4 L998.3,57.7 L999.9,58.1 L1001.5,58.4 L1003.1,58.8 L1004.6,59.1 L1006.2,59.5 L1007.8,59.9 L1009.4,60.2 L1010.9,60.6 L1012.5,61.0 L1014.1,61.3 L1015.6,61.7 L1017.2,62.1 L1018.8,62.4 L1020.3,62.8 L1021.9,63.2 L1023.5,63.5 L1025.0,63.9 L1026.6,64.3 L1028.1,64.7 L1029.7,65.0 L1031.3,65.4 L1032.8,65.8 L1034.4,66.2 L1036.0,66.6 L1037.5,67.0 L1039.1,67.3 L1040.6,67.7 L1042.2,68.1 L1043.7,68.5 L1045.3,68.9 L1046.8,69.3 L1048.4,69.7 L1050.0,70.1 L1051.5,70.5 L1053.1,70.9 L1054.6,71.3 L1056.2,71.7 L1057.7,72.1 L1059.3,72.5 L1060.8,72.9 L1062.4,73.3 L1063.9,73.8 L1065.5,74.2 L1067.0,74.6" fill="none" stroke="#ffa500" stroke-width="1.9" stroke-linejoin="round" stroke-dasharray="14.4 1.9" stroke-dashoffset="6"/>
<path d="M1067.0,74.6 L1068.6,75.0 L1070.1,75.4 L1071.7,75.8 L1073.2,76.3 L1074.7,76.7 L1076.3,77.1 L1077.8,77.6 L1079.4,78.0 L1080.9,78.4 L1082.5,78.9 L1084.0,79.3 L1085.6,79.7 L1087.1,80.2 L1088.6,80.6 L1090.2,81.1 L1091.7,81.5 L1093.3,82.0 L1094.8,82.4 L1096.3,82.9 L1097.9,83.3 L1099.4,83.8 L1101.0,84.3 L1102.5,84.7 L1104.0,85.2 L1105.6,85.7 L1107.1,86.1 L1108.7,86.6 L1110.2,87.1 L1111.7,87.6 L1113.3,88.1 L1114.8,88.5 L1116.3,89.0 L1117.9,89.5 L1119.4,90.0 L1120.9,90.5 L1122.4,91.0 L1124.0,91.5 L1125.5,92.0 L1127.0,92.5 L1128.6,93.0 L1130.1,93.5 L1131.6,94.1 L1133.1,94.6 L1134.6,95.1 L1136.2,95.6 L1137.7,96.2 L1139.2,96.7 L1140.7,97.2 L1142.2,97.8 L1143.7,98.3 L1145.3,98.9 L1146.8,99.4 L1148.3,100.0 L1149.8,100.5 L1151.3,101.1 L1152.8,101.6 L1154.3,102.2 L1155.8,102.8 L1157.3,103.3 L1158.8,103.9 L1160.3,104.5 L1161.8,105.1 L1163.3,105.7 L1164.8,106.3 L1166.3,106.9 L1167.8,107.4 L1169.3,108.1 L1170.8,108.7 L1172.3,109.3 L1173.8,109.9 L1175.2,110.5 L1176.7,111.1 L1178.2,111.7 L1179.7,112.4 L1181.2,113.0 L1182.6,113.7 L1184.1,114.3 L1185.6,114.9 L1187.1,115.6 L1188.5,116.2 L1190.0,116.9 L1191.4,117.6 L1192.9,118.2 L1194.4,118.9 L1195.8,119.6 L1197.3,120.3 L1198.7,121.0 L1200.2,121.6 L1201.6,122.3 L1203.1,123.0 L1204.5,123.7 L1206.0,124.5 L1207.4,125.2 L1208.9,125.9 L1210.3,126.6 L1211.7,127.3 L1213.2,128.1 L1214.6,128.8 L1216.0,129.6 L1217.5,130.3 L1218.9,131.1 L1220.3,131.8 L1221.7,132.6 L1223.1,133.3 L1224.6,134.1 L1226.0,134.9 L1227.4,135.7 L1228.8,136.5 L1230.2,137.3 L1231.6,138.1 L1233.0,138.9 L1234.4,139.7 L1235.8,140.5 L1237.1,141.3 L1238.5,142.1 L1239.9,143.0 L1241.3,143.8 L1242.7,144.6 L1244.0,145.5 L1245.4,146.3 L1246.8,147.2 L1248.1,148.1 L1249.5,148.9 L1250.8,149.8 L1252.2,150.7 L1253.5,151.6 L1254.8,152.5 L1256.2,153.4 L1257.5,154.3 L1258.8,155.2 L1260.1,156.1 L1261.4,157.1 L1262.7,158.0 L1264.0,158.9 L1265.3,159.9 L1266.6,160.8 L1267.9,161.8 L1269.2,162.8 L1270.5,163.7 L1271.8,164.7 L1273.0,165.7 L1274.3,166.7 L1275.5,167.7 L1276.8,168.7 L1278.0,169.7 L1279.2,170.7 L1280.5,171.8 L1281.7,172.8 L1282.9,173.8 L1284.1,174.9 L1285.3,175.9 L1286.5,177.0 L1287.7,178.1 L1288.9,179.2 L1290.1,180.2 L1291.2,181.3 L1292.4,182.4 L1293.6,183.5 L1294.7,184.7 L1295.9,185.8 L1297.0,186.9 L1298.1,188.0 L1299.2,189.2 L1300.4,190.3 L1301.5,191.5 L1302.6,192.7 L1303.6,193.8 L1304.7,195.0 L1305.8,196.2 L1306.9,197.4 L1307.9,198.6 L1309.0,199.8 L1310.0,201.0 L1311.1,202.3 L1312.1,203.5 L1313.2,204.7 L1314.2,206.0 L1315.2,207.2 L1316.2,208.5 L1317.2,209.7 L1318.2,211.0 L1319.2,212.2 L1320.2,213.5 L1321.2,214.8 L1322.1,216.1 L1323.1,217.4 L1324.1,218.7 L1325.0,220.0 L1326.0,221.3 L1326.9,222.6 L1327.9,223.9 L1328.8,225.2 L1329.7,226.5 L1330.6,227.8 L1331.6,229.2 L1332.5,230.5 L1333.4,231.8 L1334.3,233.2 L1335.2,234.5 L1336.1,235.9 L1336.9,237.2 L1337.8,238.6 L1338.7,239.9 L1339.6,241.3 L1340.4,242.6 L1341.3,244.0 L1342.1,245.4 L1343.0,246.8 L1343.8,248.1 L1344.7,249.5 L1345.5,250.9 L1346.3,252.3 L1347.2,253.7 L1348.0,255.0 L1348.8,256.4 L1349.6,257.8 L1350.4,259.2 L1351.2,260.6 L1352.0,262.0 L1352.8,263.4 L1353.6,264.8 L1354.4,266.2 L1355.2,267.6 L1356.0,269.0 L1356.8,270.4 L1357.6,271.9 L1358.3,273.3 L1359.1,274.7 L1359.9,276.1 L1360.6,277.5 L1361.4,278.9 L1362.2,280.4 L1362.9,281.8 L1363.7,283.2 L1364.4,284.6 L1365.2,286.1 L1365.9,287.5 L1366.7,288.9 L1367.4,290.3 L1368.1,291.8 L1368.9,293.2 L1369.6,294.6 L1370.3,296.0 L1371.1,297.5 L1371.8,298.9 L1372.5,300.3 L1373.3,301.8 L1374.0,303.2 L1374.7,304.6 L1375.4,306.1 L1376.1,307.5 L1376.9,308.9 L1377.6,310.3 L1378.3,311.8 L1379.0,313.2 L1379.7,314.6 L1380.4,316.1 L1381.1,317.5 L1381.8,318.9 L1382.6,320.3 L1383.3,321.8 L1384.0,323.2 L1384.7,324.6 L1385.4,326.0 L1386.1,327.5 L1386.8,328.9 L1387.5,330.3 L1388.2,331.7 L1389.0,333.1 L1389.7,334.6 L1390.4,336.0 L1391.1,337.4 L1391.9,338.8 L1392.6,340.2 L1393.4,341.6 L1394.1,343.0 L1394.9,344.4 L1395.6,345.8 L1396.4,347.3 L1397.2,348.7 L1397.9,350.1 L1398.7,351.4 L1399.5,352.8 L1400.3,354.2 L1401.1,355.6 L1402.0,357.0 L1402.8,358.4 L1403.7,359.8 L1404.5,361.2 L1405.4,362.5 L1406.3,363.9 L1407.1,365.3 L1408.0,366.6 L1409.0,368.0 L1409.9,369.3 L1410.8,370.7 L1411.8,372.0 L1412.7,373.3 L1413.7,374.6 L1414.7,375.9 L1415.7,377.2 L1416.8,378.5 L1417.8,379.7 L1418.9,380.9 L1419.9,382.1 L1421.0,383.3 L1422.1,384.5 L1423.3,385.7 L1424.4,386.8 L1425.5,387.9 L1426.7,389.0 L1427.9,390.1 L1429.1,391.2 L1430.3,392.3 L1431.5,393.3 L1432.7,394.4 L1433.9,395.4 L1435.2,396.4 L1436.5,397.4 L1437.7,398.4 L1439.0,399.3 L1440.3,400.3 L1441.6,401.2 L1442.9,402.1 L1444.2,403.0 L1445.6,403.9 L1446.9,404.8 L1448.3,405.7 L1449.6,406.6 L1451.0,407.4 L1452.4,408.3 L1453.7,409.1 L1455.1,409.9 L1456.5,410.7 L1457.9,411.5 L1459.3,412.3 L1460.7,413.1 L1462.2,413.8 L1463.6,414.6 L1465.0,415.3 L1466.5,416.1 L1467.9,416.8 L1469.3,417.5 L1470.8,418.2 L1472.2,419.0 L1473.7,419.6 L1475.2,420.3 L1476.6,421.0 L1478.1,421.7 L1479.5,422.4 L1481.0,423.0 L1482.5,423.7 L1483.9,424.3 L1485.4,425.0 L1486.9,425.6 L1488.4,426.2 L1489.8,426.8 L1491.3,427.5 L1492.8,428.1 L1494.3,428.7 L1495.8,429.3 L1497.3,429.9 L1498.8,430.4 L1500.2,431.0 L1501.7,431.6 L1503.2,432.2 L1504.7,432.7 L1506.2,433.3 L1507.7,433.9 L1509.2,434.4 L1510.7,435.0 L1512.2,435.5 L1513.7,436.0 L1515.2,436.6 L1516.7,437.1 L1518.2,437.6 L1519.7,438.2 L1521.2,438.7 L1522.8,439.2 L1524.3,439.7 L1525.8,440.2 L1527.3,440.7 L1528.8,441.2 L1530.3,441.7 L1531.9,442.2 L1533.4,442.7 L1534.9,443.2 L1536.4,443.7 L1537.9,444.2 L1539.5,444.7 L1541.0,445.2 L1542.5,445.7 L1544.1,446.1 L1545.6,446.6 L1547.1,447.1 L1548.6,447.6 L1550.2,448.0 L1551.7,448.5 L1553.2,449.0 L1554.8,449.4 L1556.3,449.9 L1557.9,450.4 L1559.4,450.8 L1560.9,451.3 L1562.5,451.8 L1564.0,452.2 L1565.6,452.7 L1567.1,453.1 L1568.7,453.6 L1570.2,454.0 L1571.8,454.5 L1573.3,454.9 L1574.9,455.4 L1576.4,455.8 L1578.0,456.2 L1579.5,456.7 L1581.1,457.1 L1582.6,457.5 L1584.2,458.0 L1585.7,458.4 L1587.3,458.8 L1588.8,459.2 L1590.4,459.7 L1591.9,460.1 L1593.5,460.5 L1595.1,460.9 L1596.6,461.3 L1598.2,461.8 L1599.7,462.2 L1601.3,462.6 L1602.9,463.0 L1604.4,463.4 L1606.0,463.8 L1607.5,464.2 L1609.1,464.6 L1610.7,465.0 L1612.2,465.4 L1613.8,465.8 L1615.4,466.2 L1616.9,466.6 L1618.5,467.0 L1620.1,467.3 L1621.6,467.7 L1623.2,468.1 L1624.8,468.5 L1626.3,468.9 L1627.9,469.3 L1629.5,469.6 L1631.1,470.0 L1632.6,470.4 L1634.2,470.8 L1635.8,471.1 L1637.3,471.5 L1638.9,471.9 L1640.5,472.2 L1642.0,472.6 L1643.6,473.0 L1645.2,473.3 L1646.8,473.7 L1648.3,474.1 L1649.9,474.4 L1651.5,474.8 L1653.0,475.1 L1654.6,475.5 L1656.2,475.8 L1657.8,476.2 L1659.3,476.5 L1660.9,476.9 L1662.5,477.2 L1664.1,477.6 L1665.6,477.9 L1667.2,478.3 L1668.8,478.6 L1670.3,479.0 L1671.9,479.3 L1673.5,479.7 L1675.1,480.0 L1676.6,480.4 L1678.2,480.7 L1679.8,481.0 L1681.3,481.4 L1682.9,481.7 L1684.5,482.0 L1686.1,482.4 L1687.6,482.7 L1689.2,483.1 L1690.8,483.4 L1692.3,483.7 L1693.9,484.1 L1695.5,484.4 L1697.0,484.7 L1698.6,485.0 L1700.2,485.4 L1701.8,485.7 L1703.3,486.0 L1704.9,486.4 L1706.5,486.7 L1708.0,487.0 L1709.6,487.3 L1711.2,487.7 L1712.7,488.0 L1714.3,488.3 L1715.8,488.6 L1717.4,489.0 L1719.0,489.3 L1720.5,489.6 L1722.1,489.9 L1723.7,490.3 L1725.2,490.6 L1726.8,490.9 L1728.3,491.2 L1729.9,491.6 L1731.4,491.9 L1733.0,492.2 L1734.6,492.5 L1736.1,492.8 L1737.7,493.2 L1739.2,493.5 L1740.8,493.8 L1742.5,494.2" fill="none" stroke="#ffa500" stroke-width="1.95" stroke-linejoin="round" stroke-dasharray="15.8 1.6"/>
<line x1="1336" y1="51.9" x2="1381.5" y2="51.9" stroke="#ee8d0c" stroke-width="2.2"/>
<line x1="1336" y1="93.95" x2="1381.5" y2="93.95" stroke="#12a6f2" stroke-width="2.2"/>
<g filter="url(#gs)"><text class="an" x="1393.0" y="60.9" textLength="40.2" lengthAdjust="spacingAndGlyphs">full</text><text class="an" x="1441.0" y="60.9" textLength="82.0" lengthAdjust="spacingAndGlyphs">model</text></g>
<g filter="url(#gs)"><text class="an" x="1392.8" y="101.8" textLength="77.4" lengthAdjust="spacingAndGlyphs">const.</text><text class="an" x="1478.0" y="101.8" textLength="54.5" lengthAdjust="spacingAndGlyphs">Rtot</text><text class="an" x="1540.0" y="101.8" textLength="189.5" lengthAdjust="spacingAndGlyphs">approximation</text></g>
<g filter="url(#gs)"><text class="an" x="1339.5" y="146.5" textLength="56.0" lengthAdjust="spacingAndGlyphs">with</text><text class="an" x="1404.0" y="146.5" textLength="49.0" lengthAdjust="spacingAndGlyphs">kint</text><text class="an" x="1460.0" y="146.5" textLength="16.0" lengthAdjust="spacingAndGlyphs">=</text><text class="an" x="1483.5" y="146.5" textLength="62.0" lengthAdjust="spacingAndGlyphs">kdeg</text></g>
</svg></body></html>
